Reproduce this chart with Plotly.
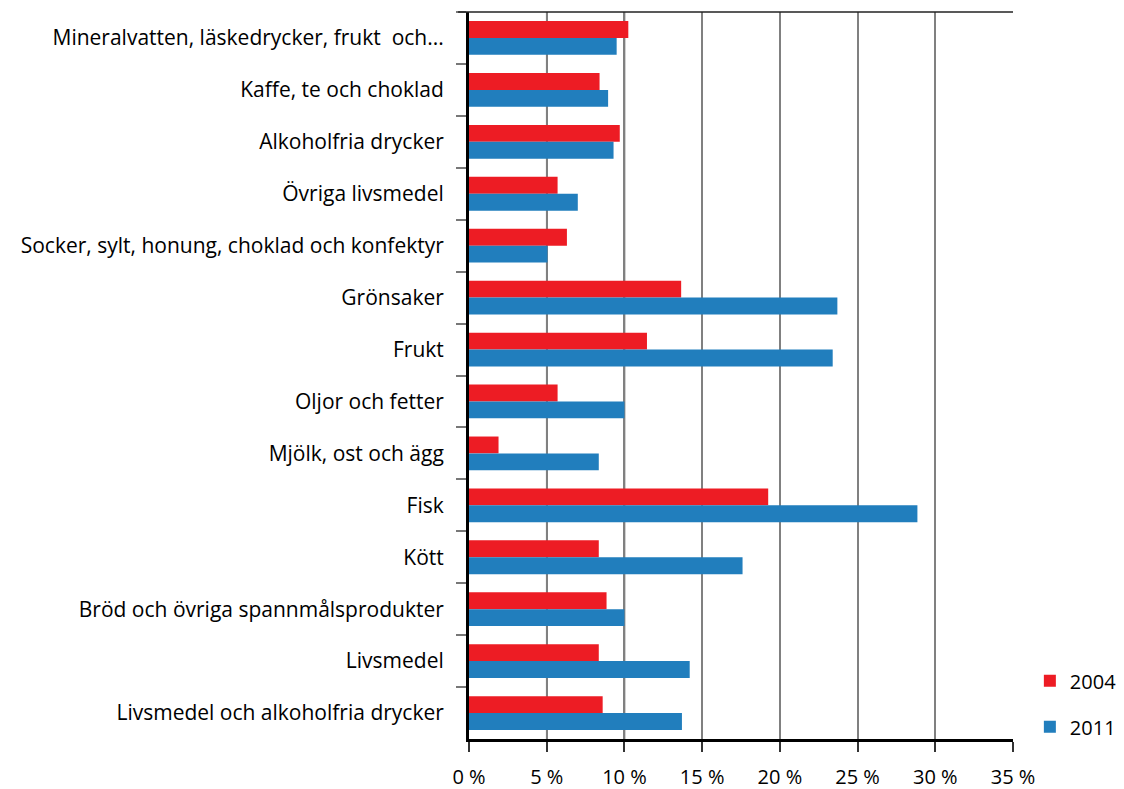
import plotly.graph_objects as go

RED = "#ED1C24"
BLUE = "#217EBD"

categories = [
    "Mineralvatten, läskedrycker, frukt  och...",
    "Kaffe, te och choklad",
    "Alkoholfria drycker",
    "Övriga livsmedel",
    "Socker, sylt, honung, choklad och konfektyr",
    "Grönsaker",
    "Frukt",
    "Oljor och fetter",
    "Mjölk, ost och ägg",
    "Fisk",
    "Kött",
    "Bröd och övriga spannmålsprodukter",
    "Livsmedel",
    "Livsmedel och alkoholfria drycker",
]

values_2004 = [10.25, 8.4, 9.7, 5.7, 6.3, 13.65, 11.45, 5.7, 1.9, 19.25, 8.35, 8.85, 8.35, 8.6]
values_2011 = [9.5, 8.95, 9.3, 7.0, 5.05, 23.7, 23.4, 10.0, 8.35, 28.85, 17.6, 10.0, 14.2, 13.7]

x_ticks = [0, 5, 10, 15, 20, 25, 30, 35]
x_labels = [f"{v} %" for v in x_ticks]

fig = go.Figure()
fig.add_trace(go.Bar(y=categories, x=values_2004, name="2004", orientation="h",
                     marker=dict(color=RED, line_width=0), legendgroup="a"))
fig.add_trace(go.Bar(y=categories, x=values_2011, name="2011", orientation="h",
                     marker=dict(color=BLUE, line_width=0), legendgroup="b"))

# svarta stödlinjer för 5-15 %, resten grå
for v in [5, 10, 15]:
    fig.add_shape(type="line", xref="x", yref="paper", x0=v, x1=v, y0=0, y1=1,
                  line=dict(color="black", width=1.5), layer="between")
# topplinje
fig.add_shape(type="line", xref="paper", yref="paper", x0=-0.02, x1=1, y0=1, y1=1,
              line=dict(color="#222222", width=1.5))

# sidan har 8 px marginal i body -> figuren görs 8 px mindre
fig.update_layout(
    barmode="group",
    bargap=0.35,
    bargroupgap=0,
    width=1116, height=781,
    paper_bgcolor="white",
    plot_bgcolor="white",
    font=dict(family="Open Sans", size=21, color="black"),
    margin=dict(l=461, r=111, t=4, b=50, autoexpand=False),
    legend=dict(x=1.031, y=-0.01, xanchor="left", yanchor="bottom",
                font=dict(size=20), tracegroupgap=17, traceorder="grouped",
                bgcolor="rgba(0,0,0,0)"),
)

fig.update_xaxes(
    range=[0, 35], tickvals=x_ticks, ticktext=x_labels,
    tickfont=dict(size=20),
    showgrid=True, gridcolor="#808080", gridwidth=2,
    showline=True, linecolor="black", linewidth=3,
    ticks="outside", ticklen=10, tickwidth=1.5, tickcolor="#333333",
    ticklabelstandoff=8, zeroline=False, automargin=False,
)
fig.update_yaxes(
    autorange="reversed", type="category",
    showline=True, linecolor="black", linewidth=3,
    ticks="outside", tickson="boundaries", ticklen=10, tickwidth=1.5,
    tickcolor="#777777", ticklabelstandoff=18, showgrid=False, automargin=False,
)

fig.write_html("out.html")
